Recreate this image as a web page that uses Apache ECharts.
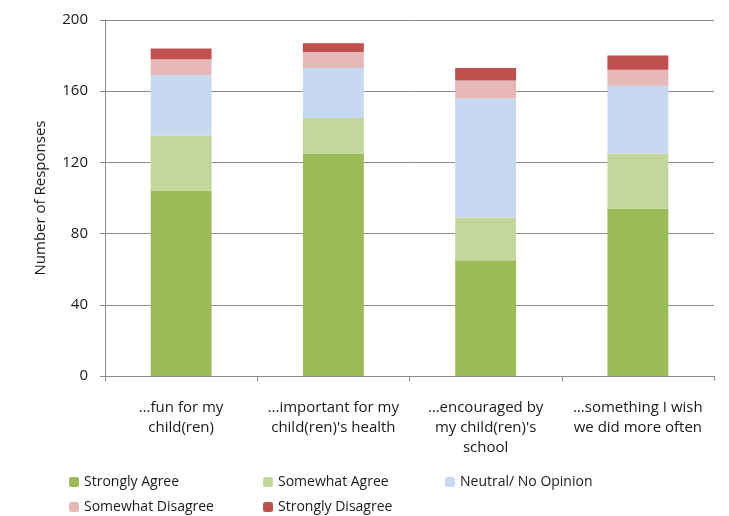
<!DOCTYPE html>
<html>
<head>
<meta charset="utf-8">
<script src="https://cdn.jsdelivr.net/npm/echarts@6/dist/echarts.min.js"></script>
<style>
  html, body { margin: 0; padding: 0; background: #fff; }
  #chart { width: 729px; height: 516px; }
</style>
</head>
<body>
<div id="chart"></div>
<script>
const categories = [
  "\u2026fun for my\nchild(ren)",
  "\u2026important for my\nchild(ren)'s health",
  "\u2026encouraged by\nmy child(ren)'s\nschool",
  "\u2026something I wish\nwe did more often"
];
const stronglyAgree = [104, 125, 65, 94];
const somewhatAgree = [31, 20, 24, 31];
const neutral = [34, 28, 67, 38];
const somewhatDisagree = [9, 9, 10, 9];
const stronglyDisagree = [6, 5, 7, 8];
const yTicks = { min: 0, max: 200, interval: 40 };

const font = "'Open Sans', sans-serif";
const chart = echarts.init(document.getElementById("chart"));

const mk = (name, data, color) => ({
  name, type: "bar", stack: "total", data,
  barWidth: "40%",
  itemStyle: { color }
});

const leg = (name, left, top) => ({
  left, top, padding: 0, itemWidth: 10, itemHeight: 10, itemGap: 0,
  textStyle: { fontSize: 14, color: "#1a1a1a", fontFamily: font },
  data: [name]
});

chart.setOption({
  animation: false,
  textStyle: { fontFamily: font },
  grid: { left: 105, right: 15, top: 20, bottom: 140 },
  xAxis: {
    type: "category",
    data: categories,
    axisLine: { lineStyle: { color: "#8c8c8c" } },
    axisTick: { show: true, length: 5, lineStyle: { color: "#8c8c8c" } },
    axisLabel: { color: "#1a1a1a", fontSize: 15, lineHeight: 20, margin: 22, fontFamily: font, interval: 0 }
  },
  yAxis: {
    type: "value",
    min: yTicks.min, max: yTicks.max, interval: yTicks.interval,
    name: "Number of Responses",
    nameLocation: "middle",
    nameGap: 57,
    nameTextStyle: { color: "#1a1a1a", fontSize: 15, fontFamily: font },
    axisLine: { show: true, lineStyle: { color: "#8c8c8c" } },
    axisTick: { show: true, length: 5, lineStyle: { color: "#8c8c8c" } },
    axisLabel: { color: "#1a1a1a", fontSize: 15, margin: 17, fontFamily: font },
    splitLine: { lineStyle: { color: "#8c8c8c" } }
  },
  legend: [
    leg("Strongly Agree", 69, 475),
    leg("Somewhat Disagree", 69, 500),
    leg("Somewhat Agree", 263, 475),
    leg("Strongly Disagree", 263, 500),
    leg("Neutral/ No Opinion", 445, 475)
  ],
  series: [
    mk("Strongly Agree", stronglyAgree, "#9BBB59"),
    mk("Somewhat Agree", somewhatAgree, "#C3D69B"),
    mk("Neutral/ No Opinion", neutral, "#C6D9F1"),
    mk("Somewhat Disagree", somewhatDisagree, "#E6B9B8"),
    mk("Strongly Disagree", stronglyDisagree, "#C0504D")
  ]
});
</script>
</body>
</html>
